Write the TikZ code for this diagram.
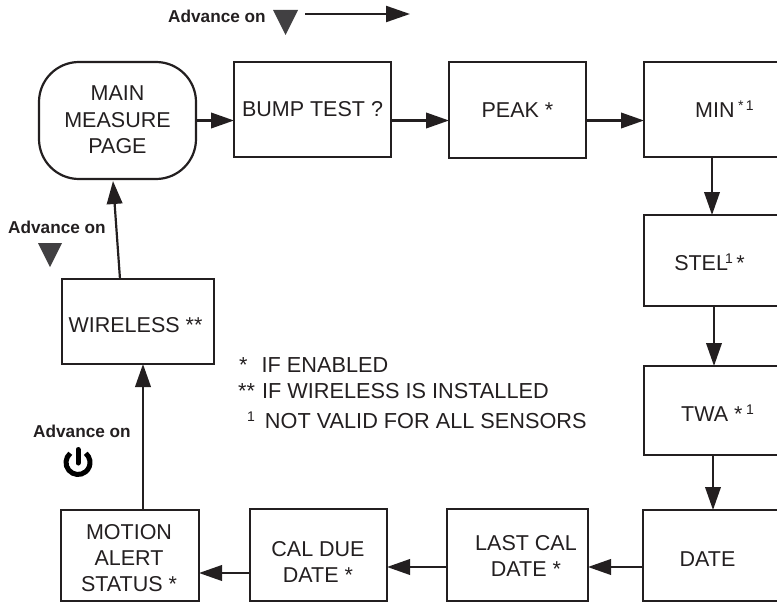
\documentclass[tikz,border=0pt]{standalone}
\usepackage{fontspec}
\setmainfont{Liberation Sans}
\usetikzlibrary{arrows.meta}
\definecolor{ink}{HTML}{231F20}
\definecolor{tri}{HTML}{414042}
% text whose first baseline sits #2 above the node centre, shifted #1 sideways
\newcommand\lbl[3]{\raisebox{#2pt}[0pt][0pt]{\makebox[0pt][c]{\hspace*{#1pt}\hspace*{#1pt}\begin{tabular}[t]{@{}c@{}}#3\end{tabular}}}}
\newcommand\sups[1]{\raisebox{7pt}{\fontsize{14}{14}\selectfont #1}}
\tikzset{
  box/.style={draw=ink,line width=2.2pt,inner sep=0pt,outer sep=0pt,font=\fontsize{21.5}{26}\selectfont,text=ink},
  flow/.style={draw=ink,line width=2.2pt,-{Triangle[length=23pt,width=15.5pt]}},
  adv/.style={font=\bfseries\fontsize{17.2}{20}\selectfont,text=ink,anchor=base west,inner sep=0pt},
  note/.style={font=\fontsize{21.7}{26}\selectfont,text=ink,anchor=base west,inner sep=0pt},
  tritip/.style={fill=tri,draw=none},
}
\begin{document}
\begin{tikzpicture}[x=1pt,y=-1pt]
\clip (0,0) rectangle (777,602);
% boxes
\node[box,rounded corners=40pt,minimum width=157pt,minimum height=117pt] (main) at (117.5,120.5) {\lbl{0}{19.5}{MAIN\\MEASURE\\PAGE}};
\node[box,minimum width=157pt,minimum height=95pt] (bump) at (312.5,109.5) {\lbl{0}{-7.5}{BUMP TEST ?}};
\node[box,minimum width=137pt,minimum height=96pt] (peak) at (517.5,110) {\lbl{0}{-7.7}{PEAK *}};
\node[box,minimum width=136pt,minimum height=95pt] (min) at (712,109.5) {\lbl{12.5}{-8}{MIN\,\sups{*\,1}}};
\node[box,minimum width=140pt,minimum height=91pt] (stel) at (714,260.5) {\lbl{-4.5}{-9.5}{STEL\kern-3pt\sups{1}\,*}};
\node[box,minimum width=138pt,minimum height=89pt] (twa) at (713,410.5) {\lbl{4.5}{-10.5}{TWA *\,\sups{1}}};
\node[box,minimum width=140pt,minimum height=91pt] (date) at (713,555.5) {\lbl{-5.5}{-10.5}{DATE}};
\node[box,minimum width=141pt,minimum height=92pt] (last) at (517.5,555) {\lbl{8.5}{5}{LAST CAL\\DATE *}};
\node[box,minimum width=137pt,minimum height=92pt] (cal) at (318.5,555) {\lbl{-0.5}{-1}{CAL DUE\\DATE *}};
\node[box,minimum width=138pt,minimum height=91pt] (motion) at (130,555.5) {\lbl{-1}{16.5}{MOTION\\ALERT\\STATUS *}};
\node[box,minimum width=152pt,minimum height=85pt] (wireless) at (138,321.5) {\lbl{-2.5}{-10.5}{WIRELESS **}};
% connectors
\draw[flow] (main.east) -- (main.east -| bump.west);
\draw[flow] (main.east -| bump.east) -- (main.east -| peak.west);
\draw[flow] (main.east -| peak.east) -- (main.east -| min.west);
\draw[flow] (min.south) -- (min.south |- stel.north);
\draw[flow] (stel.south) -- (stel.south |- twa.north);
\draw[flow] (twa.south) -- (twa.south |- date.north);
\coordinate (dateout) at ([yshift=-12pt]last.east -| date.west);
\coordinate (lastin) at ([yshift=-12pt]last.east);
\coordinate (lastout) at ([yshift=-12pt]last.west);
\coordinate (calin) at ([yshift=-12pt]cal.east);
\draw[flow] (dateout) -- (lastin);
\draw[flow] (lastout) -- (calin);
\coordinate (calout) at ([yshift=-18pt]cal.west);
\coordinate (motin) at ([yshift=-17.5pt]motion.east);
\draw[flow] (calout) -- (calout -| motin);
\draw[flow] ([xshift=13pt]motion.north) -- ([xshift=13pt]motion.north |- wireless.south);
\draw[flow] ([xshift=-18pt]wireless.north) -- ([xshift=-4.5pt,yshift=-2pt]main.south);
% legend
\node[adv] (advtop) at (168,23) {Advance on};
\fill[tritip] (273,10) -- (298,10) -- (285.5,35) -- cycle;
\coordinate (legA) at (305,14);
\coordinate (legB) at (410,14);
\draw[flow,-{Triangle[length=24pt,width=16pt]}] (legA) -- (legB);
\node[adv] (advleft) at (8,233) {Advance on};
\fill[tritip] (38,243) -- (62,243) -- (50,267) -- cycle;
\node[adv] (advpow) at (33,437) {Advance on};
\draw[black,line width=5pt] (70.3,453.3) arc[start angle=130,end angle=410,radius=12pt];
\draw[black,line width=5pt,line cap=round] (78,449.5) -- (78,463);
% notes
\node[note] (n1) at (239,372) {*\hspace{14pt}IF ENABLED};
\node[note] (n2) at (238,398) {**\hspace{1pt} IF WIRELESS IS INSTALLED};
\node[note] (n3) at (247,428) {\raisebox{7pt}{\fontsize{14}{14}\selectfont 1}\hspace{10pt}NOT VALID FOR ALL SENSORS};
\end{tikzpicture}
\end{document}
